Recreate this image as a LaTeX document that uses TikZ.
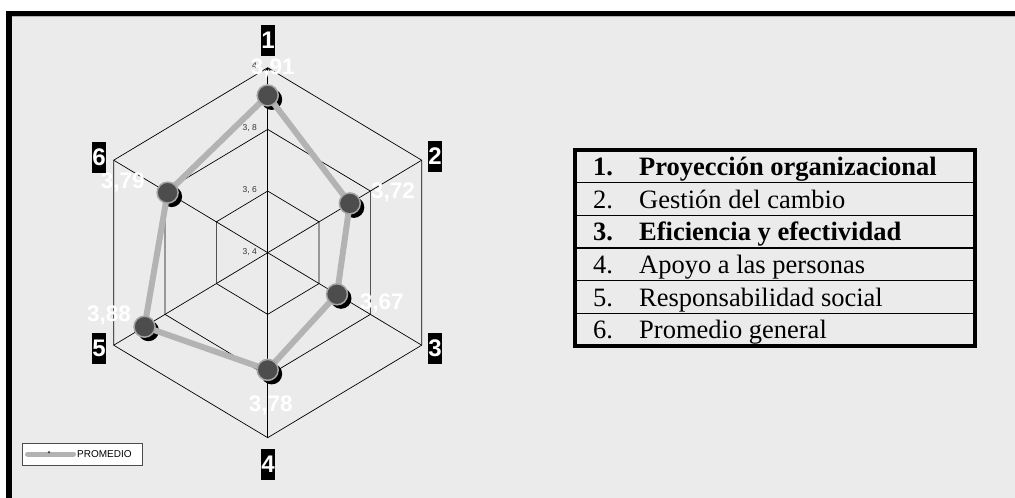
\documentclass[tikz,border=0pt]{standalone}
\usepackage{fontspec}
\setmainfont{Liberation Serif}
\newfontfamily\arial{Liberation Sans}
\usetikzlibrary{arrows.meta}
\definecolor{bg}{HTML}{EBEBEB}
\definecolor{lgray}{HTML}{B3B3B3}
\definecolor{dgray}{HTML}{4D4D4D}
\definecolor{ringc}{HTML}{A6A6A6}
\definecolor{tickc}{HTML}{333333}
\begin{document}
\begin{tikzpicture}[x=1pt,y=-1pt,
  grid/.style={draw=black, line width=0.7pt},
  dataline/.style={draw=lgray, line width=6pt, line join=round},
  marker/.style={circle, fill=dgray, draw=ringc, line width=1.5pt, minimum size=21pt, inner sep=0pt},
  shadowdot/.style={circle, fill=black, minimum size=21pt, inner sep=0pt},
  vallab/.style={text=white, font=\arial\bfseries\fontsize{22.5}{23}\selectfont, inner sep=0pt},
  ticklab/.style={text=tickc, font=\arial\fontsize{8.5}{9}\selectfont, inner sep=0pt, anchor=east},
  axlab/.style={fill=black, text=white, font=\arial\bfseries\fontsize{24}{24}\selectfont, minimum width=14.5pt, minimum height=31pt, inner sep=0pt},
  tabtxt/.style={anchor=base west, inner sep=0pt, font=\fontsize{26.5}{30}\selectfont},
  sep/.style={line width=1.5pt}
]
\useasboundingbox (0,0) rectangle (1015,498);
% frame
\fill[bg] (6,11) rectangle (1015,498);
\fill[black] (6,11) rectangle (1015,16);
\fill[black] (6,11) rectangle (12,498);
\draw[gray!60, line width=1pt] (12,16.5) -- (1015,16.5);

% radar grid
\begin{scope}[shift={(267.7,252.7)}]
  \foreach \f in {0.33333,0.66667,1}
    \draw[grid] (0,{-185*\f}) -- ({154*\f},{-92.5*\f}) -- ({154*\f},{92.5*\f}) -- (0,{185*\f}) -- ({-154*\f},{92.5*\f}) -- ({-154*\f},{-92.5*\f}) -- cycle;
  \coordinate (O) at (0,0);
  \coordinate (v1) at (0,-185);
  \coordinate (v2) at (154,-92.5);
  \coordinate (v3) at (154,92.5);
  \coordinate (v4) at (0,185);
  \coordinate (v5) at (-154,92.5);
  \coordinate (v6) at (-154,-92.5);
  \draw[grid, -{Straight Barb[length=2.5pt,width=5pt]}] (O) -- (v1);
  \foreach \i in {2,...,6} \draw[grid] (O) -- (v\i);
  % data points
  \coordinate (c1) at (0,-157.25);
  \coordinate (c2) at (82.1,-49.3);
  \coordinate (c3) at (69.3,41.6);
  \coordinate (c4) at (0,117.2);
  \coordinate (c5) at (-123.2,74);
  \coordinate (c6) at (-100.1,-60.1);
\end{scope}

% tick labels
\node[ticklab] (t40) at (257,66) {4};
\node[ticklab] (t38) at (257,128) {3, 8};
\node[ticklab] (t36) at (257,190) {3, 6};
\node[ticklab] (t34) at (257,252) {3, 4};

% shadows
\foreach \i in {1,...,6}
  \node[shadowdot, xshift=4pt, yshift=-4pt] (s\i) at (c\i) {};
% data line
\draw[dataline] (c1) -- (c2) -- (c3) -- (c4) -- (c5) -- (c6) -- cycle;
% markers
\foreach \i in {1,...,6}
  \node[marker] (p\i) at (c\i) {};

% value labels
\node[vallab] (l1) at (272.7,68) {3,91};
\node[vallab] (l2) at (393,192) {3,72};
\node[vallab] (l3) at (381.7,303) {3,67};
\node[vallab] (l4) at (270.7,405) {3,78};
\node[vallab] (l5) at (109,315) {3,88};
\node[vallab] (l6) at (122.7,182.7) {3,79};

% axis labels
\node[axlab] (a1) at (268,40) {1};
\node[axlab] (a2) at (435,156) {2};
\node[axlab] (a3) at (435,348) {3};
\node[axlab] (a4) at (268,464) {4};
\node[axlab] (a5) at (99,348) {5};
\node[axlab] (a6) at (99,157) {6};

% legend
\node[draw=black!70, fill=white, line width=1pt, minimum width=120pt, minimum height=22pt, inner sep=0pt, anchor=north west] (legend) at (22,443) {};
\coordinate (la) at (27.5,454);
\coordinate (lb) at (73.5,454);
\draw[draw=lgray, line width=5pt, line cap=round] (la) -- (lb);
\fill[dgray] (49,452.3) circle (1.4pt);
\node[anchor=west, inner sep=0pt, font=\arial\fontsize{10}{10}\selectfont] (legtxt) at (77,454.5) {PROMEDIO};

% table
\fill[bg] (575,150) rectangle (975,346);
\foreach \y in {182.67,215.33,248,280.67,313.33}
  \draw[sep] (575,\y) -- (975,\y);
\draw[line width=3.5pt] (575,150) rectangle (975,346);
\node[tabtxt] (n1) at (593,175.3) {\textbf{1.}};
\node[tabtxt] (r1) at (639,175.3) {\textbf{Proyección organizacional}};
\node[tabtxt] (n2) at (593,208) {2.};
\node[tabtxt] (r2) at (639,208) {Gestión del cambio};
\node[tabtxt] (n3) at (593,240.7) {\textbf{3.}};
\node[tabtxt] (r3) at (639,240.7) {\textbf{Eficiencia y efectividad}};
\node[tabtxt] (n4) at (593,273.3) {4.};
\node[tabtxt] (r4) at (639,273.3) {Apoyo a las personas};
\node[tabtxt] (n5) at (593,306) {5.};
\node[tabtxt] (r5) at (639,306) {Responsabilidad social};
\node[tabtxt] (n6) at (593,338.7) {6.};
\node[tabtxt] (r6) at (639,338.7) {Promedio general};
\end{tikzpicture}
\end{document}
